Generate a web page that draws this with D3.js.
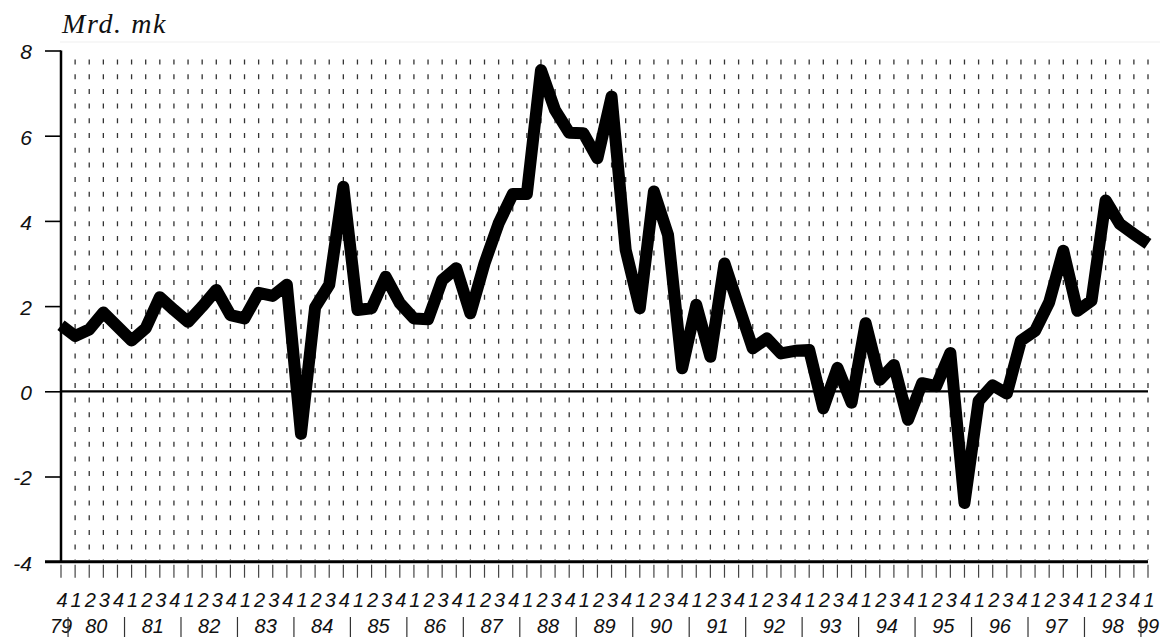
<!DOCTYPE html>
<html>
<head>
<meta charset="utf-8">
<script src="https://cdn.jsdelivr.net/npm/d3@7"></script>
<style>
  html, body { margin: 0; padding: 0; background: #fff; }
  svg { display: block; }
  .sans { font-family: "Liberation Sans", Arimo, Arial, Helvetica, sans-serif; font-style: italic; }
  .serif { font-family: "Liberation Serif", "Times New Roman", Times, serif; font-style: italic; }
</style>
</head>
<body>
<svg id="chart" width="1165" height="638"></svg>
<script>
// Quarterly values, 1979 Q4 .. 1999 Q1 (Mrd. mk); first value is 79 Q4
const values = [
  1.55,
  1.30, 1.45, 1.85, 1.52,   // 80
  1.19, 1.48, 2.21, 1.91,   // 81
  1.63, 1.99, 2.38, 1.79,   // 82
  1.71, 2.31, 2.24, 2.50,   // 83
  -1.00, 1.97, 2.50, 4.80,  // 84
  1.91, 1.95, 2.69, 2.07,   // 85
  1.71, 1.69, 2.61, 2.89,   // 86
  1.83, 3.00, 3.94, 4.63,   // 87
  4.63, 7.54, 6.60, 6.07,   // 88
  6.06, 5.47, 6.92, 3.32,   // 89
  1.95, 4.69, 3.67, 0.54,   // 90
  2.03, 0.81, 3.00, 2.00,   // 91
  1.01, 1.24, 0.89, 0.95,   // 92
  0.97, -0.40, 0.55, -0.27, // 93
  1.60, 0.27, 0.62, -0.67,  // 94
  0.19, 0.12, 0.90, -2.62,  // 95
  -0.23, 0.14, -0.05, 1.19, // 96
  1.42, 2.09, 3.30, 1.89,   // 97
  2.13, 4.48, 3.93, 3.69,   // 98
  3.46                      // 99
];

const quarterLabels = [
  "4",
  "1","2","3","4", "1","2","3","4", "1","2","3","4", "1","2","3","4",
  "1","2","3","4", "1","2","3","4", "1","2","3","4", "1","2","3","4",
  "1","2","3","4", "1","2","3","4", "1","2","3","4", "1","2","3","4",
  "1","2","3","4", "1","2","3","4", "1","2","3","4", "1","2","3","4",
  "1","2","3","4", "1","2","3","4", "1","2","3","4",
  "1"
];
const yearLabels = ["79","80","81","82","83","84","85","86","87","88","89",
                    "90","91","92","93","94","95","96","97","98","99"];
const yTicks = [8, 6, 4, 2, 0, -2, -4];
const unitLabel = "Mrd. mk";

const svg = d3.select("#chart");
const x = d3.scaleLinear().domain([0, values.length - 1]).range([61, 1148]);
const y = d3.scaleLinear().domain([-4, 8]).range([561.7, 50.5]);

// faint top edge
svg.append("line").attr("x1", 60).attr("x2", 1160).attr("y1", 42).attr("y2", 42)
  .attr("stroke", "#efefef").attr("stroke-width", 1);

// dotted vertical grid
const idx = d3.range(values.length);
svg.append("g").selectAll("line").data(idx.slice(1)).join("line")
  .attr("x1", d => x(d)).attr("x2", d => x(d))
  .attr("y1", y(8) + 9).attr("y2", y(-4) - 2)
  .attr("stroke", "#333").attr("stroke-width", 1.3)
  .attr("stroke-dasharray", "5,9.7");

// ticks below the bottom axis
svg.append("g").selectAll("line").data(idx).join("line")
  .attr("x1", d => x(d)).attr("x2", d => x(d))
  .attr("y1", y(-4) + 3).attr("y2", y(-4) + 16)
  .attr("stroke", "#444").attr("stroke-width", 1.2);

// y axis
const yAxis = d3.axisLeft(y).tickValues(yTicks).tickSize(16).tickPadding(13)
  .tickFormat(d => String(d));
const gy = svg.append("g").attr("transform", `translate(${x(0)},0)`).call(yAxis);
gy.attr("font-family", null).attr("font-size", null);
gy.select(".domain").attr("stroke", "#000").attr("stroke-width", 2.5)
  .attr("d", `M0,${y(8)}V${y(-4)}`);
gy.selectAll(".tick line").attr("stroke", "#000").attr("stroke-width", 1.6);
gy.selectAll(".tick text").attr("class", "sans")
  .style("font-size", "21px").attr("fill", "#111").attr("dy", "0.4em");

// zero line and bottom axis line
svg.append("line").attr("x1", x(0)).attr("x2", x(values.length - 1))
  .attr("y1", y(0)).attr("y2", y(0)).attr("stroke", "#000").attr("stroke-width", 2.2);
svg.append("line").attr("x1", x(0) - 16).attr("x2", x(values.length - 1))
  .attr("y1", y(-4)).attr("y2", y(-4)).attr("stroke", "#000").attr("stroke-width", 3);

// data line
const line = d3.line().x((d, i) => x(i)).y(d => y(d));
svg.append("path").datum(values)
  .attr("d", line)
  .attr("fill", "none").attr("stroke", "#000")
  .attr("stroke-width", 12).attr("stroke-linejoin", "round").attr("stroke-linecap", "butt");

// quarter labels
svg.append("g").selectAll("text").data(quarterLabels).join("text")
  .attr("class", "sans")
  .attr("x", (d, i) => x(i) + 1).attr("y", 607)
  .attr("text-anchor", "middle")
  .style("font-size", "20px")
  .attr("fill", "#111").text(d => d);

// year groups derived from quarter labels
const starts = idx.filter(i => i === 0 || quarterLabels[i] === "1");
const groups = starts.map((s, k) => {
  const e = k + 1 < starts.length ? starts[k + 1] - 1 : values.length - 1;
  return { label: yearLabels[k], s, e };
});
svg.append("g").selectAll("text").data(groups).join("text")
  .attr("class", "sans")
  .attr("x", d => x((d.s + d.e) / 2)).attr("y", 633)
  .attr("text-anchor", "middle")
  .style("font-size", "20px")
  .attr("fill", "#111").text(d => d.label);
svg.append("g").selectAll("line").data(groups.slice(1)).join("line")
  .attr("x1", d => x(d.s - 0.5)).attr("x2", d => x(d.s - 0.5))
  .attr("y1", 617).attr("y2", 637)
  .attr("stroke", "#333").attr("stroke-width", 1.2);

// unit title
svg.append("text").attr("class", "serif").attr("x", 62).attr("y", 33)
  .style("font-size", "28px").attr("letter-spacing", 1.6)
  .attr("fill", "#111").text(unitLabel);
</script>
</body>
</html>
